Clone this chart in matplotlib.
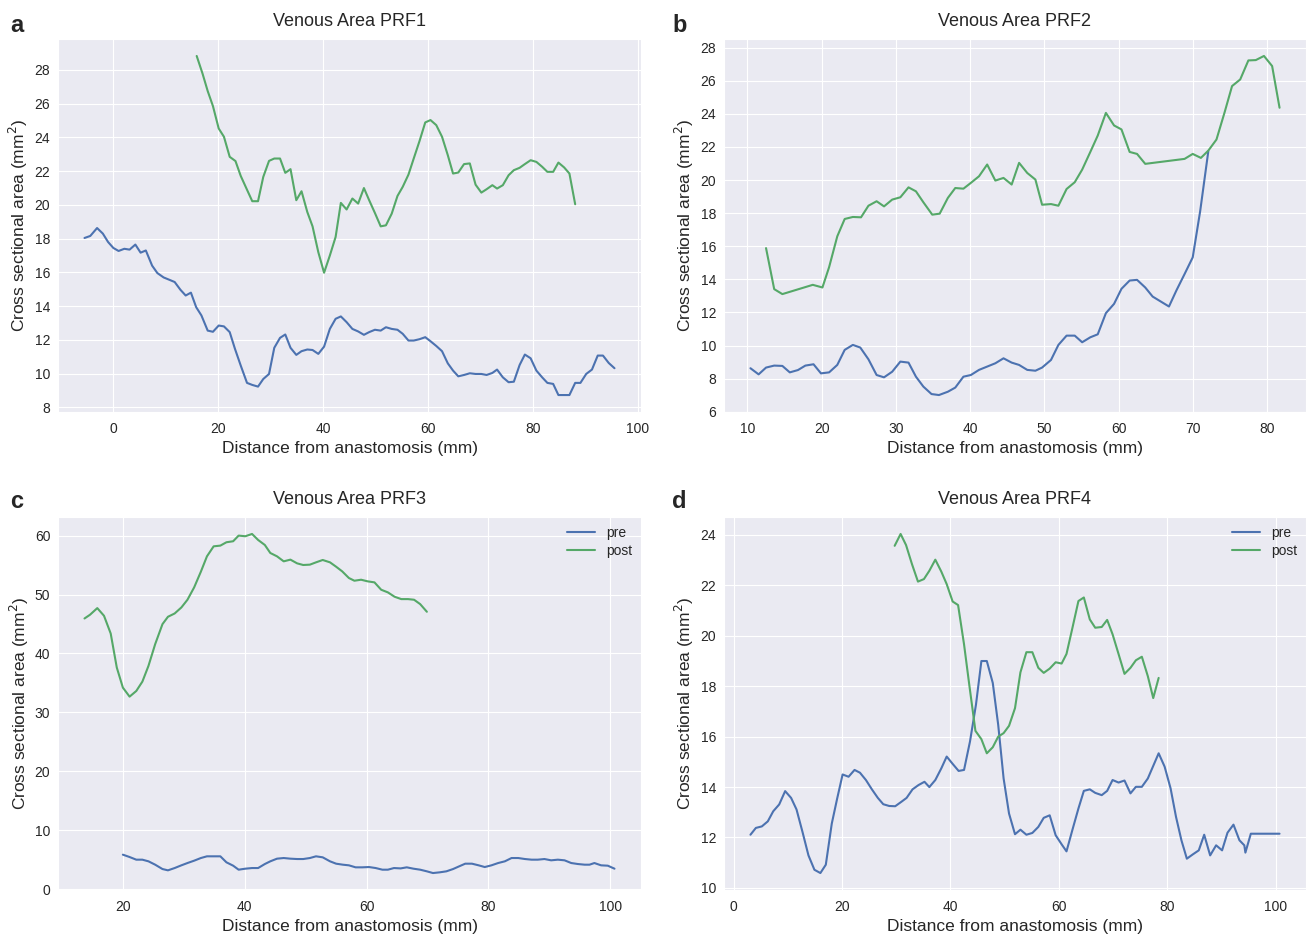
import numpy as np
import matplotlib
matplotlib.use('Agg')
import matplotlib.pyplot as plt
from matplotlib.ticker import MultipleLocator
import seaborn as sns

# panel a (PRF1)
a_pre_x = [-5.5, -4.4, -3.1, -2.0, -1.0, 0.0, 1.0, 2.1, 3.1, 4.2, 5.2, 6.2, 7.4, 8.4, 9.6,
           10.7, 11.7, 12.8, 13.8, 14.8, 15.8, 16.8, 18.0, 19.0, 20.1, 21.1, 22.2, 23.2, 24.3,
           25.5, 26.5, 27.6, 28.6, 29.7, 30.7, 31.8, 32.8, 33.8, 34.9, 35.9, 37.0, 38.0, 39.1,
           40.2, 41.3, 42.4, 43.4, 44.5, 45.6, 46.7, 47.8, 48.8, 49.9, 51.0, 52.0, 53.1, 54.2,
           55.2, 56.3, 57.3, 58.4, 59.5, 60.5, 61.6, 62.7, 63.8, 64.8, 65.8, 66.9, 68.0, 69.1,
           70.2, 71.2, 72.3, 73.2, 74.3, 75.4, 76.4, 77.5, 78.5, 79.6, 80.7, 81.8, 82.8, 83.9,
           84.9, 86.0, 87.0, 88.1, 89.1, 90.2, 91.3, 92.4, 93.4, 94.5, 95.6]
a_pre_y = [18.04, 18.16, 18.63, 18.3, 17.8, 17.45, 17.27, 17.4, 17.35, 17.65, 17.17, 17.3, 16.4,
           15.96, 15.7, 15.56, 15.43, 14.97, 14.63, 14.8, 13.94, 13.45, 12.55, 12.48, 12.85, 12.8,
           12.46, 11.47, 10.48, 9.45, 9.33, 9.23, 9.68, 9.98, 11.53, 12.12, 12.32, 11.53, 11.11,
           11.33, 11.43, 11.4, 11.17, 11.6, 12.65, 13.25, 13.39, 13.05, 12.65, 12.5, 12.3, 12.46,
           12.6, 12.55, 12.75, 12.65, 12.6, 12.36, 11.96, 11.96, 12.04, 12.16, 11.92, 11.64, 11.33,
           10.61, 10.18, 9.84, 9.92, 10.02, 9.98, 9.98, 9.92, 10.04, 10.24, 9.78, 9.49, 9.52, 10.51,
           11.13, 10.91, 10.18, 9.78, 9.45, 9.39, 8.73, 8.73, 8.73, 9.45, 9.45, 9.98, 10.24, 11.07,
           11.07, 10.63, 10.32]
a_post_x = [15.9, 17.0, 18.0, 19.0, 20.1, 21.1, 22.2, 23.3, 24.3, 25.5, 26.5, 27.6, 28.6, 29.7,
            30.7, 31.8, 32.8, 33.8, 34.9, 35.9, 37.0, 38.0, 39.1, 40.2, 41.3, 42.4, 43.4, 44.5,
            45.6, 46.7, 47.8, 48.8, 49.9, 51.0, 52.0, 53.1, 54.2, 55.2, 56.3, 57.3, 58.4, 59.5,
            60.5, 61.6, 62.7, 63.8, 64.8, 65.8, 66.9, 68.0, 69.1, 70.2, 71.2, 72.3, 73.2, 74.3,
            75.4, 76.4, 77.5, 78.5, 79.6, 80.7, 81.8, 82.8, 83.9, 84.9, 86.0, 87.0, 88.1]
a_post_y = [28.83, 27.8, 26.75, 25.86, 24.53, 24.04, 22.85, 22.6, 21.72, 20.9, 20.22, 20.22, 21.66,
            22.61, 22.75, 22.75, 21.9, 22.12, 20.28, 20.81, 19.58, 18.73, 17.2, 15.98, 17.0, 18.1,
            20.12, 19.73, 20.38, 20.08, 21.0, 20.28, 19.52, 18.73, 18.79, 19.48, 20.53, 21.07, 21.8,
            22.75, 23.78, 24.89, 25.03, 24.73, 24.04, 22.95, 21.86, 21.92, 22.42, 22.46, 21.2, 20.73,
            20.93, 21.17, 20.97, 21.17, 21.76, 22.06, 22.2, 22.42, 22.65, 22.55, 22.26, 21.96, 21.96,
            22.51, 22.22, 21.86, 20.04]

# panel b (PRF2)
b_pre_x = [10.4, 11.5, 12.5, 13.6, 14.7, 15.7, 16.8, 17.8, 18.9, 19.9, 21.0, 22.1, 23.1, 24.2,
           25.2, 26.3, 27.4, 28.4, 29.5, 30.6, 31.7, 32.7, 33.7, 34.8, 35.8, 37.0, 38.0, 39.1,
           40.1, 41.2, 42.3, 43.4, 44.5, 45.6, 46.6, 47.7, 48.8, 49.7, 50.9, 51.9, 53.0, 54.1,
           55.1, 56.2, 57.2, 58.3, 59.4, 60.4, 61.5, 62.5, 63.6, 64.6, 66.8, 67.8, 68.9, 70.0,
           71.0, 72.1]
b_pre_y = [8.63, 8.26, 8.67, 8.79, 8.77, 8.38, 8.52, 8.79, 8.87, 8.32, 8.38, 8.83, 9.74, 10.04,
           9.88, 9.17, 8.22, 8.08, 8.42, 9.03, 8.97, 8.12, 7.52, 7.07, 7.01, 7.21, 7.46, 8.12, 8.22,
           8.53, 8.73, 8.93, 9.23, 8.97, 8.83, 8.53, 8.48, 8.67, 9.13, 10.04, 10.6, 10.6, 10.2, 10.5,
           10.68, 11.96, 12.52, 13.43, 13.93, 13.97, 13.51, 12.96, 12.36, 13.33, 14.32, 15.33,
           18.11, 21.74]
b_post_x = [12.5, 13.6, 14.7, 18.8, 20.1, 21.0, 22.1, 23.1, 24.2, 25.3, 26.3, 27.4, 28.4, 29.5,
            30.6, 31.7, 32.7, 33.7, 34.9, 35.9, 37.0, 38.0, 39.1, 40.1, 41.2, 42.3, 43.4, 44.5,
            45.6, 46.6, 47.7, 48.8, 49.7, 50.9, 51.9, 53.0, 54.1, 55.1, 56.2, 57.2, 58.3, 59.4,
            60.4, 61.5, 62.5, 63.6, 68.9, 70.0, 71.1, 72.1, 73.2, 74.3, 75.3, 76.4, 77.5, 78.5,
            79.6, 80.7, 81.7]
b_post_y = [15.89, 13.41, 13.11, 13.67, 13.51, 14.74, 16.6, 17.65, 17.77, 17.75, 18.45, 18.72,
            18.41, 18.82, 18.96, 19.56, 19.32, 18.66, 17.91, 17.97, 18.92, 19.52, 19.48, 19.83,
            20.23, 20.94, 19.97, 20.13, 19.73, 21.04, 20.43, 20.03, 18.51, 18.55, 18.45, 19.46,
            19.87, 20.63, 21.7, 22.69, 24.06, 23.3, 23.06, 21.7, 21.58, 20.98, 21.28, 21.58, 21.34,
            21.78, 22.45, 24.1, 25.68, 26.08, 27.23, 27.25, 27.5, 26.89, 24.37]

# panel c (PRF3)
c_pre_x = [20.0, 21.1, 22.2, 23.2, 24.2, 25.3, 26.5, 27.4, 28.5, 29.6, 30.6, 31.7, 32.8, 33.8,
           34.9, 36.0, 37.0, 38.1, 39.0, 40.1, 41.2, 42.2, 43.3, 44.2, 45.3, 46.4, 47.5, 48.6,
           49.6, 50.7, 51.7, 52.8, 54.0, 55.0, 56.1, 57.1, 58.2, 59.3, 60.4, 61.5, 62.6, 63.5,
           64.5, 65.6, 66.6, 67.7, 68.8, 69.9, 70.9, 72.0, 73.1, 74.2, 75.2, 76.2, 77.3, 78.4,
           79.4, 80.5, 81.6, 82.7, 83.8, 84.9, 86.0, 87.1, 88.1, 89.2, 90.3, 91.4, 92.5, 93.6,
           94.7, 95.8, 96.6, 97.4, 98.5, 99.6, 100.7]
c_pre_y = [5.83, 5.43, 4.98, 4.98, 4.7, 4.13, 3.39, 3.17, 3.56, 4.02, 4.41, 4.81, 5.26, 5.55, 5.55,
           5.55, 4.53, 3.96, 3.28, 3.45, 3.56, 3.56, 4.24, 4.7, 5.15, 5.26, 5.15, 5.09, 5.09, 5.26,
           5.55, 5.38, 4.7, 4.3, 4.13, 4.02, 3.68, 3.68, 3.73, 3.56, 3.28, 3.28, 3.56, 3.5, 3.68,
           3.45, 3.28, 3.0, 2.71, 2.83, 3.0, 3.39, 3.85, 4.3, 4.3, 4.02, 3.73, 4.02, 4.41, 4.7, 5.26,
           5.26, 5.09, 4.98, 4.98, 5.09, 4.87, 4.98, 4.87, 4.41, 4.24, 4.13, 4.13, 4.41, 4.02, 3.96,
           3.45]
c_post_x = [13.7, 14.6, 15.8, 16.9, 18.0, 19.0, 20.0, 21.1, 22.2, 23.2, 24.2, 25.3, 26.5, 27.4,
            28.5, 29.6, 30.6, 31.7, 32.8, 33.8, 34.9, 36.0, 37.0, 38.1, 39.0, 40.1, 41.2, 42.2,
            43.3, 44.2, 45.3, 46.4, 47.5, 48.6, 49.6, 50.7, 51.7, 52.8, 54.0, 55.0, 56.0, 57.1,
            58.0, 59.1, 60.2, 61.3, 62.4, 63.5, 64.6, 65.7, 66.8, 67.8, 68.8, 69.9]
c_post_y = [45.93, 46.56, 47.69, 46.39, 43.38, 37.6, 34.19, 32.66, 33.62, 35.21, 37.88, 41.57,
            44.97, 46.22, 46.78, 47.8, 49.11, 51.21, 53.87, 56.48, 58.18, 58.3, 58.87, 59.04, 60.0,
            59.89, 60.28, 59.26, 58.41, 57.05, 56.48, 55.63, 55.92, 55.29, 55.01, 55.07, 55.46,
            55.86, 55.46, 54.72, 53.93, 52.8, 52.34, 52.51, 52.23, 52.06, 50.81, 50.36, 49.62,
            49.22, 49.22, 49.11, 48.37, 47.07]

# panel d (PRF4)
d_pre_x = [3.1, 4.1, 5.2, 6.3, 7.3, 8.4, 9.5, 10.6, 11.6, 12.7, 13.8, 14.9, 16.0, 17.0, 18.1,
           19.1, 20.1, 21.2, 22.3, 23.3, 24.4, 25.5, 26.6, 27.6, 28.7, 29.8, 30.9, 31.9, 33.0,
           34.1, 35.2, 36.1, 37.2, 38.3, 39.3, 40.4, 41.5, 42.5, 43.6, 44.7, 45.7, 46.7, 47.8,
           48.8, 49.8, 50.8, 51.9, 52.9, 54.0, 55.1, 56.2, 57.2, 58.3, 59.4, 60.5, 61.4, 62.5,
           63.6, 64.6, 65.7, 66.7, 67.9, 68.9, 69.9, 71.0, 72.1, 73.2, 74.2, 75.3, 76.4, 77.4,
           78.4, 79.5, 80.6, 81.6, 82.6, 83.6, 84.7, 85.8, 86.8, 87.9, 89.0, 90.1, 91.1, 92.2,
           93.3, 94.2, 94.4, 95.4, 96.5, 97.6, 98.7, 99.7, 100.7]
d_pre_y = [12.11, 12.38, 12.44, 12.64, 13.04, 13.31, 13.84, 13.57, 13.11, 12.22, 11.29, 10.72,
           10.59, 10.92, 12.55, 13.55, 14.5, 14.41, 14.68, 14.57, 14.28, 13.91, 13.57, 13.32, 13.25,
           13.24, 13.41, 13.57, 13.91, 14.08, 14.21, 14.0, 14.28, 14.74, 15.21, 14.92, 14.64, 14.68,
           15.81, 17.27, 19.0, 19.0, 18.13, 16.47, 14.34, 12.95, 12.13, 12.31, 12.11, 12.18, 12.42,
           12.78, 12.88, 12.09, 11.73, 11.45, 12.31, 13.15, 13.85, 13.91, 13.77, 13.68, 13.85,
           14.28, 14.18, 14.26, 13.75, 14.01, 14.01, 14.34, 14.84, 15.34, 14.81, 13.95, 12.82,
           11.89, 11.16, 11.33, 11.49, 12.11, 11.29, 11.69, 11.49, 12.19, 12.51, 11.89, 11.69,
           11.4, 12.15, 12.15, 12.15, 12.15, 12.15, 12.15]
d_post_x = [29.7, 30.8, 31.8, 32.9, 34.0, 35.1, 36.1, 37.2, 38.3, 39.3, 40.4, 41.4, 42.5, 43.5,
            44.6, 45.7, 46.7, 47.8, 48.8, 49.8, 50.8, 51.9, 52.9, 54.0, 55.1, 56.2, 57.2, 58.3,
            59.4, 60.5, 61.4, 62.5, 63.6, 64.6, 65.7, 66.7, 67.9, 68.9, 69.9, 71.0, 72.1, 73.2,
            74.2, 75.3, 76.4, 77.4, 78.4]
d_post_y = [23.57, 24.04, 23.6, 22.84, 22.15, 22.25, 22.58, 23.02, 22.55, 22.05, 21.36, 21.22,
            19.66, 18.0, 16.23, 15.9, 15.34, 15.58, 16.0, 16.14, 16.43, 17.13, 18.55, 19.35, 19.35,
            18.73, 18.53, 18.7, 18.95, 18.9, 19.28, 20.32, 21.38, 21.52, 20.65, 20.32, 20.35, 20.63,
            20.06, 19.28, 18.49, 18.73, 19.03, 19.17, 18.4, 17.53, 18.33]

titles = ['Venous Area PRF1', 'Venous Area PRF2', 'Venous Area PRF3', 'Venous Area PRF4']
letters = ['a', 'b', 'c', 'd']
y_steps = [2, 2, 10, 2]

sns.set_style('darkgrid')
plt.rcParams['font.family'] = ['Liberation Sans', 'DejaVu Sans']

W, H = 1307, 934
fig = plt.figure(figsize=(W / 100, H / 100), dpi=100)

# axes boxes in pixels: left, top, right, bottom
boxes = [(58, 39, 641, 412), (724, 39, 1306, 412),
         (58, 517, 641, 890), (724, 517, 1306, 890)]
letter_pos = [(10, 25), (672, 25), (10, 502), (672, 502)]

series = [(a_pre_x, a_pre_y, a_post_x, a_post_y),
          (b_pre_x, b_pre_y, b_post_x, b_post_y),
          (c_pre_x, c_pre_y, c_post_x, c_post_y),
          (d_pre_x, d_pre_y, d_post_x, d_post_y)]

blue = '#4C72B0'
green = '#55A868'

for i in range(4):
    l, t, r, b = boxes[i]
    ax = fig.add_axes([l / W, 1 - b / H, (r - l) / W, (b - t) / H])
    px, py, qx, qy = series[i]
    ax.plot(px, py, color=blue, lw=1.5, label='pre')
    ax.plot(qx, qy, color=green, lw=1.5, label='post')
    ax.yaxis.set_major_locator(MultipleLocator(y_steps[i]))
    ax.xaxis.set_major_locator(MultipleLocator(20 if i != 1 else 10))
    ax.tick_params(labelsize=10, colors='.15')
    ax.tick_params(axis='y', pad=2)
    ax.set_title(titles[i], fontsize=13, color='.15', pad=9)
    ax.set_xlabel('Distance from anastomosis (mm)', fontsize=12.5, color='.15')
    ax.set_ylabel('Cross sectional area (mm$^2$)', fontsize=12.5, color='.15', labelpad=3)
    if i >= 2:
        ax.legend(loc='upper right', fontsize=10, frameon=False,
                  labelspacing=0.28, borderaxespad=0.25)
    fig.text(letter_pos[i][0] / W, 1 - letter_pos[i][1] / H, letters[i],
             fontsize=17, fontweight='bold', va='center', ha='left')

fig.savefig('out.png', dpi=100)
